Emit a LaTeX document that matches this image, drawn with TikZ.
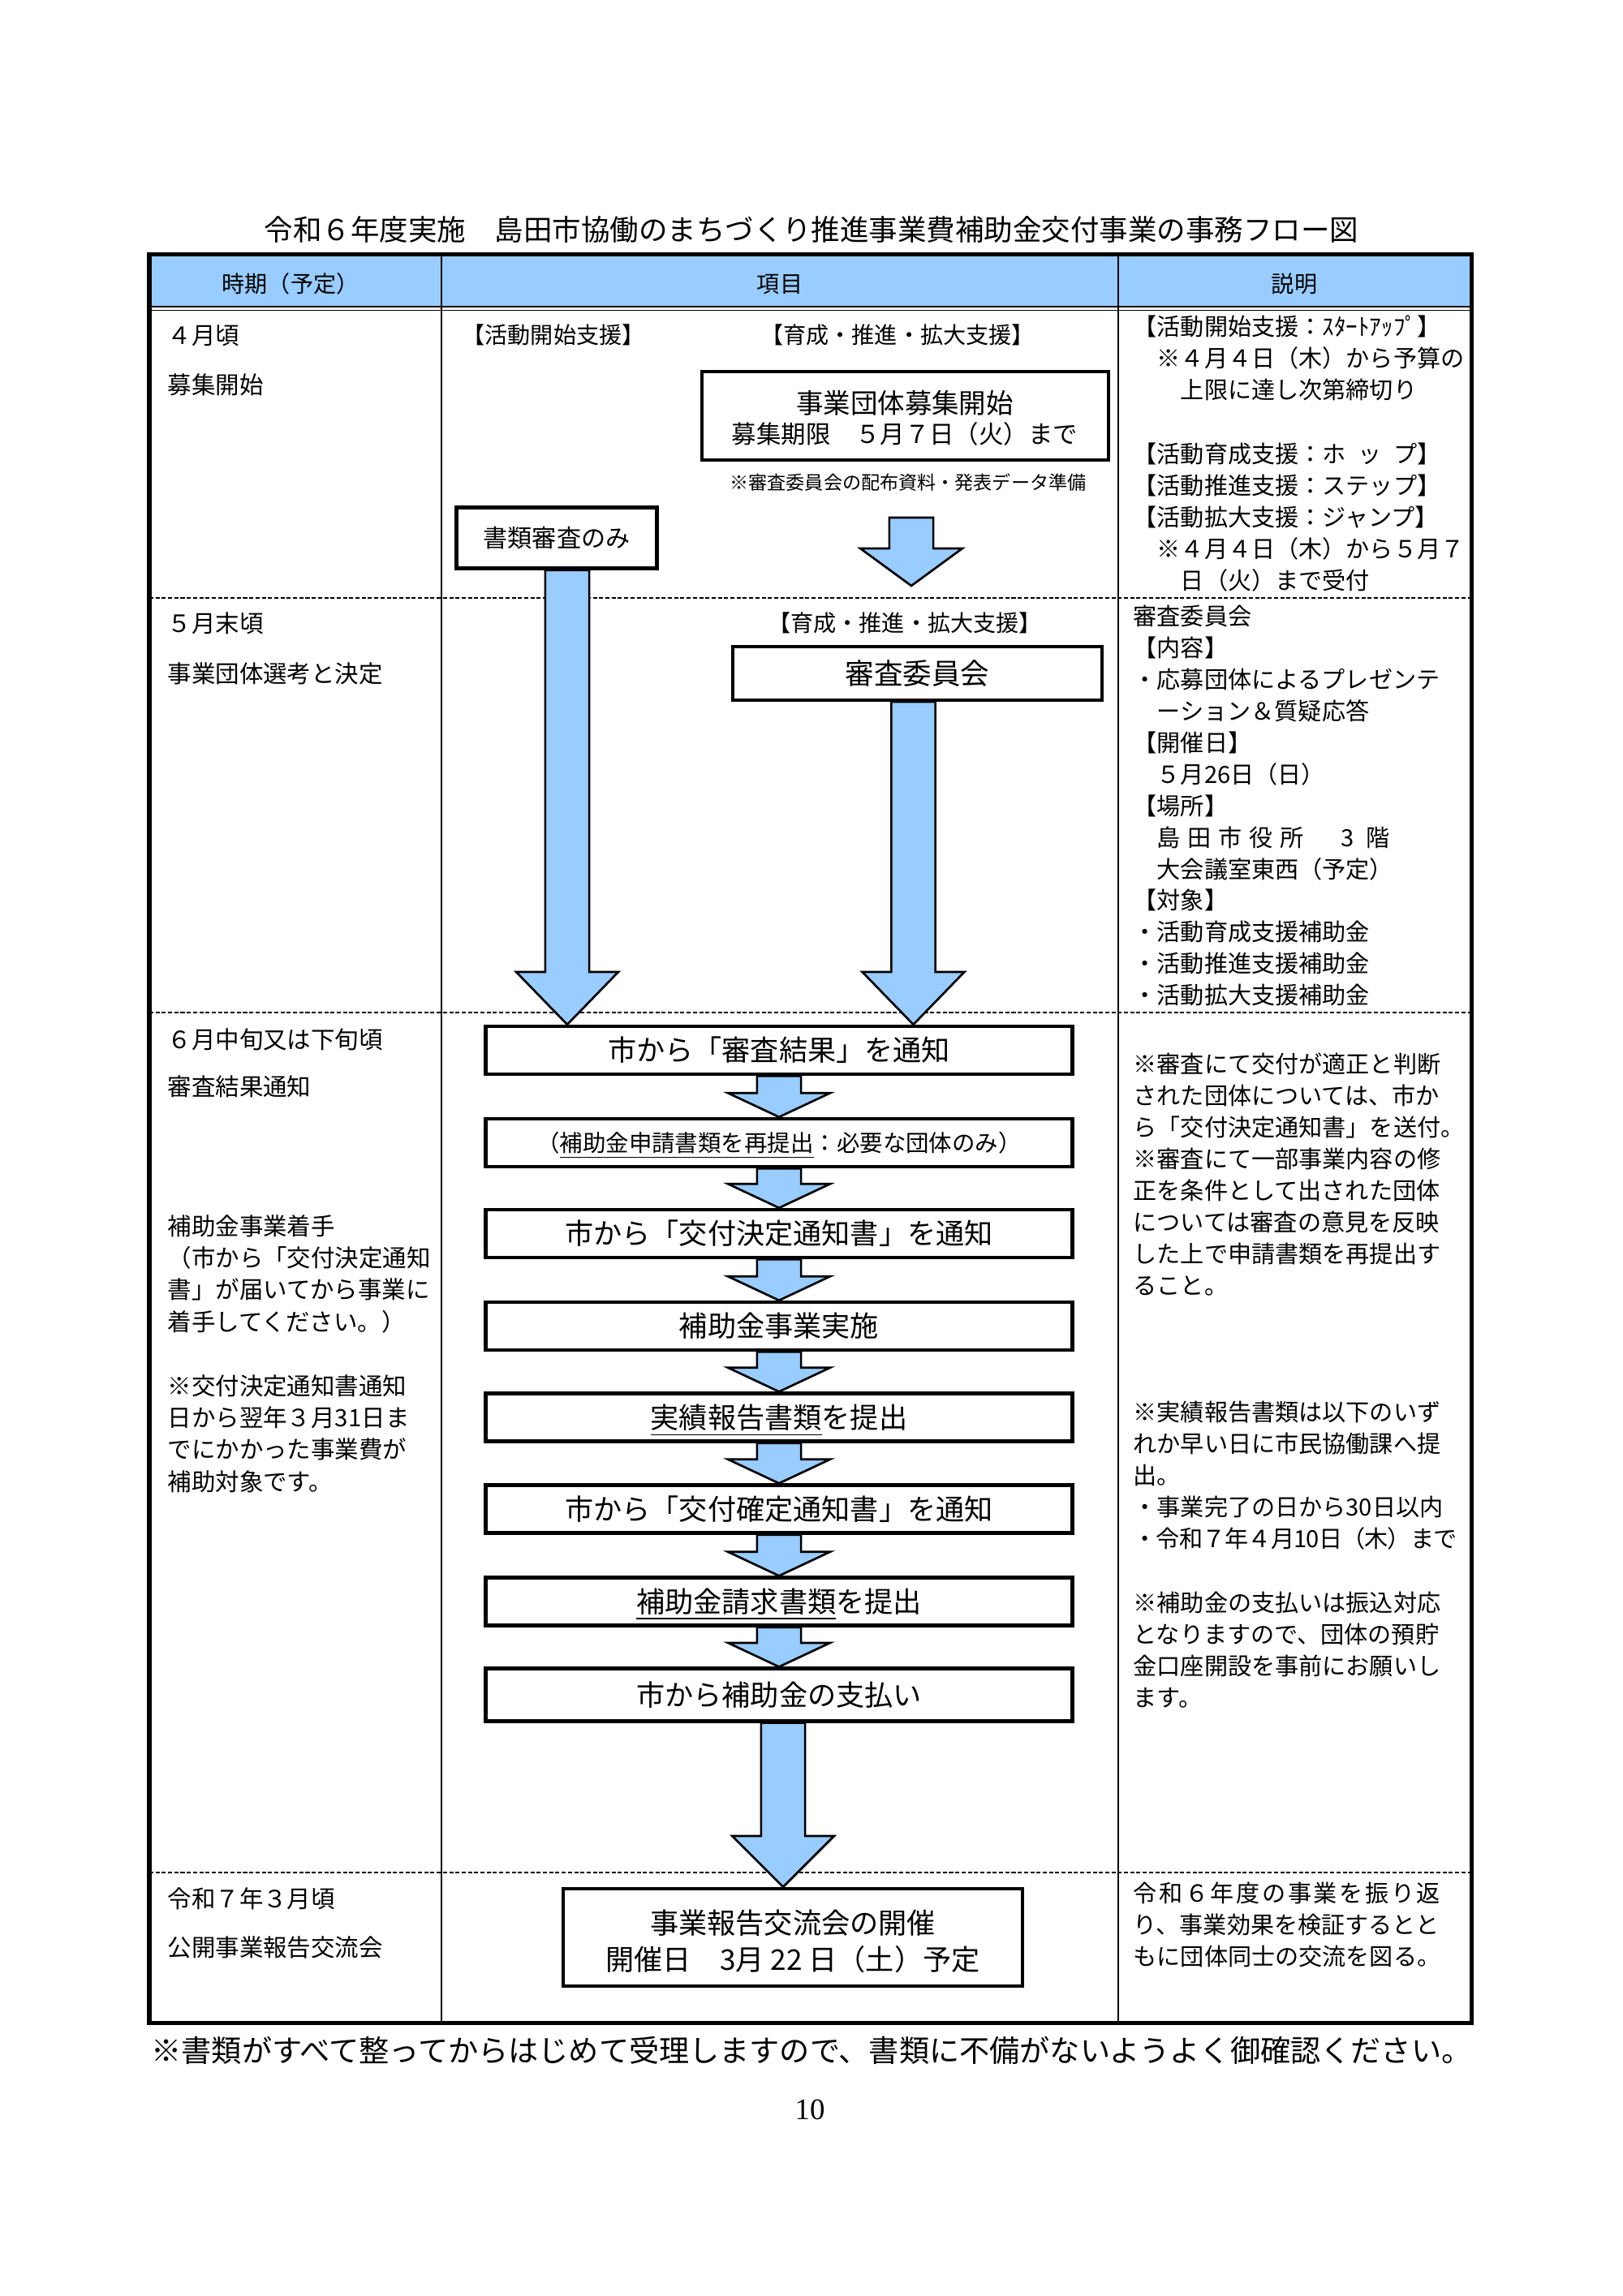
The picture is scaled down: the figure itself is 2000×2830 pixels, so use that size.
\documentclass[tikz,border=0pt]{standalone}
\usepackage{fontspec}
\setmainfont{Liberation Serif}
\newfontfamily\gothic{Noto Sans CJK JP}
\usetikzlibrary{calc}
\definecolor{flowblue}{RGB}{153,204,255}

\newcommand{\bluearrow}[3]{%
  \draw[blockarrow] let \p1=(#1), \p2=(#2) in
    (\x1-2.85mm,\y1) -- (\x1-2.85mm,\y2+#3) -- (\x1-6.6mm,\y2+#3) -- (\x1,\y2)
    -- (\x1+6.6mm,\y2+#3) -- (\x1+2.85mm,\y2+#3) -- (\x1+2.85mm,\y1) -- cycle;}

\tikzset{
  titletext/.style={font=\gothic\fontsize{10.6pt}{13pt}\selectfont, text height=9.3pt, text depth=1.3pt},
  headtext/.style={font=\gothic\fontsize{8.4pt}{10pt}\selectfont, text height=7.4pt, text depth=1pt},
  supporttext/.style={font=\gothic\fontsize{8.4pt}{10pt}\selectfont, text height=7.4pt, text depth=1pt},
  periodtext/.style={anchor=base west, text width=35mm, align=left, font=\gothic\fontsize{8.8pt}{11.77pt}\selectfont},
  notetext/.style={anchor=base west, text width=43mm, align=left, font=\gothic\fontsize{8.7pt}{11.65pt}\selectfont},
  plainbox/.style={draw, line width=1.3pt, fill=white},
  flowbox/.style={plainbox, minimum width=75.9mm, minimum height=6.2mm, text height=9.24pt, text depth=1.26pt, font=\gothic\fontsize{10.5pt}{12pt}\selectfont},
  boxtext/.style={font=\gothic\fontsize{10.5pt}{12pt}\selectfont, text height=9.24pt, text depth=1.26pt},
  blockarrow/.style={draw, line width=0.8pt, fill=flowblue, line join=miter},
  rowline/.style={line width=0.5pt, dash pattern=on 1.5pt off 0.8pt}
}

\begin{document}
\begin{tikzpicture}[x=0.105mm, y=-0.105mm, every node/.style={inner sep=0pt}]
\useasboundingbox (0,0) rectangle (2000,2830);

\node[titletext] (title) at (1000,283) {令和６年度実施　島田市協働のまちづくり推進事業費補助金交付事業の事務フロー図};

% table
\fill[flowblue] (184,313) rectangle (1813,378);
\draw[line width=0.8pt] (184,378) -- (1813,378);
\draw[line width=0.5pt] (184,382.5) -- (1813,382.5);
\draw[line width=0.6pt] (544,313) -- (544,2493);
\draw[line width=0.6pt] (1378,313) -- (1378,2493);
\draw[rowline] (184,737) -- (1813,737);
\draw[rowline] (184,1248) -- (1813,1248);
\draw[rowline] (184,2308) -- (1813,2308);
\draw[line width=1.5pt] (184,313) rectangle (1813,2493);

\node[headtext] (headperiod) at (358,350) {時期（予定）};
\node[headtext] (headitem) at (961,350) {項目};
\node[headtext] (headnote) at (1595,350) {説明};

% April
\node[periodtext] (aprlabel) at (206,424) {４月頃};
\node[periodtext] (aprtopic) at (206,485) {募集開始};
\node[supporttext] (startlabel) at (682,413) {【活動開始支援】};
\node[supporttext] (growlabel) at (1106,413) {【育成・推進・拡大支援】};
\node[plainbox, minimum width=52.6mm, minimum height=11.4mm] (recruit) at (1115.5,512.5) {};
\node[font=\gothic\fontsize{10pt}{10pt}\selectfont, text height=8.8pt, text depth=1.2pt] (recruitname) at (1115,497) {事業団体募集開始};
\node[font=\gothic\fontsize{9.1pt}{9.1pt}\selectfont, text height=8pt, text depth=1.1pt] (recruitdate) at (1115,535) {募集期限　５月７日（火）まで};
\node[font=\gothic\fontsize{6.9pt}{6.9pt}\selectfont, text height=6.07pt, text depth=0.83pt] (recruitmemo) at (1119,595) {※審査委員会の配布資料・発表データ準備};
\node[plainbox, minimum width=25.9mm, minimum height=7.9mm, font=\gothic\fontsize{9pt}{9pt}\selectfont, text height=7.92pt, text depth=1.08pt] (docreview) at (686,663) {書類審査のみ};
\coordinate (recruitflow) at (1123,638);
\coordinate (recruitflowend) at (1123,722);

% May
\node[periodtext] (maylabel) at (206,779) {５月末頃};
\node[periodtext] (maytopic) at (206,841) {事業団体選考と決定};
\node[supporttext] (growlabeltwo) at (1115,768) {【育成・推進・拡大支援】};
\node[plainbox, minimum width=47.8mm, minimum height=6.9mm, font=\gothic\fontsize{10.6pt}{10.6pt}\selectfont, text height=9.33pt, text depth=1.27pt] (committee) at (1130.5,830) {審査委員会};

% June
\node[periodtext] (junelabel) at (206,1292) {６月中旬又は下旬頃};
\node[periodtext] (junetopic) at (206,1350) {審査結果通知};
\node[periodtext] (startnote) at (206,1522) {補助金事業着手\\（市から「交付決定通知\\書」が届いてから事業に\\着手してください。）};
\node[periodtext] (costnote) at (206,1719) {※交付決定通知書通知\\日から翌年３月31日ま\\でにかかった事業費が\\補助対象です。};

\node[flowbox] (result) at (960,1294.5) {市から「審査結果」を通知};
\node[flowbox, font=\gothic\fontsize{8.5pt}{8.5pt}\selectfont, text height=7.48pt, text depth=1.02pt] (resubmit) at (960,1408.5) {（\underline{補助金申請書類を再提出}：必要な団体のみ）};
\node[flowbox] (decision) at (960,1520.5) {市から「交付決定通知書」を通知};
\node[flowbox] (project) at (960,1634.5) {補助金事業実施};
\node[flowbox] (report) at (960,1747) {\underline{実績報告書類}を提出};
\node[flowbox] (confirm) at (960,1860) {市から「交付確定通知書」を通知};
\node[flowbox] (claim) at (960,1974) {\underline{補助金請求書類}を提出};
\node[flowbox, minimum height=6.8mm] (payment) at (960,2089) {市から補助金の支払い};

% March
\node[periodtext] (marchlabel) at (206,2351) {令和７年３月頃};
\node[periodtext] (marchtopic) at (206,2411) {公開事業報告交流会};
\node[plainbox, minimum width=59.4mm, minimum height=12.6mm] (exchange) at (977,2388) {};
\node[boxtext] (exchangename) at (977,2370) {事業報告交流会の開催};
\node[boxtext] (exchangedate) at (977,2415) {開催日　3月 22 日（土）予定};

% notes
\node[notetext] (startupnote) at (1396,413) {【活動開始支援：ｽﾀｰﾄｱｯﾌﾟ】\\　※４月４日（木）から予算の\\　　上限に達し次第締切り};
\node[notetext] (stepnote) at (1396,570) {【活動育成支援：ホ\hspace{.5em}ッ\hspace{.5em}プ】\\【活動推進支援：ステップ】\\【活動拡大支援：ジャンプ】\\　※４月４日（木）から５月７\\　　日（火）まで受付};
\node[notetext] (committeenote) at (1396,770) {審査委員会\\【内容】\\・応募団体によるプレゼンテ\\　ーション＆質疑応答\\【開催日】\\　５月26日（日）\\【場所】\\　島\hspace{.3em}田\hspace{.3em}市\hspace{.3em}役\hspace{.3em}所\hspace{1.6em}3\hspace{.5em}階\\　大会議室東西（予定）\\【対象】\\・活動育成支援補助金\\・活動推進支援補助金\\・活動拡大支援補助金};
\node[notetext] (decisionnote) at (1396,1322) {※審査にて交付が適正と判断\\された団体については、市か\\ら「交付決定通知書」を送付。\\※審査にて一部事業内容の修\\正を条件として出された団体\\については審査の意見を反映\\した上で申請書類を再提出す\\ること。};
\node[notetext] (reportnote) at (1396,1751) {※実績報告書類は以下のいず\\れか早い日に市民協働課へ提\\出。\\・事業完了の日から30日以内\\{\addfontfeature{LetterSpace=-3}・令和７年４月10日（木）まで}};
\node[notetext] (paymentnote) at (1396,1986) {※補助金の支払いは振込対応\\となりますので、団体の預貯\\金口座開設を事前にお願いし\\ます。};
\node[notetext] (exchangenote) at (1396,2344) {{\addfontfeature{LetterSpace=9}令和６年度の事業を振り返}\\り、事業効果を検証するとと\\もに団体同士の交流を図る。};

% arrows
\bluearrow{recruitflow}{recruitflowend}{4.83mm}
\bluearrow{$(docreview.south)+(13,0)$}{result.north}{6.8mm}
\bluearrow{$(committee.south)+(-5,0)$}{result.north}{6.8mm}
\bluearrow{result.south}{resubmit.north}{3.1mm}
\bluearrow{resubmit.south}{decision.north}{3.1mm}
\bluearrow{decision.south}{project.north}{3.1mm}
\bluearrow{project.south}{report.north}{3.1mm}
\bluearrow{report.south}{confirm.north}{3.1mm}
\bluearrow{confirm.south}{claim.north}{3.1mm}
\bluearrow{claim.south}{payment.north}{3.1mm}
\bluearrow{$(payment.south)+(5,0)$}{exchange.north}{6.6mm}

\node[font=\gothic\fontsize{11.1pt}{11.1pt}\selectfont, text height=9.77pt, text depth=1.33pt] (closingnote) at (1000,2527) {※書類がすべて整ってからはじめて受理しますので、書類に不備がないようよく御確認ください。};
\node[font=\fontsize{11pt}{11pt}\selectfont] (pagenum) at (998,2600) {10};
\end{tikzpicture}
\end{document}
